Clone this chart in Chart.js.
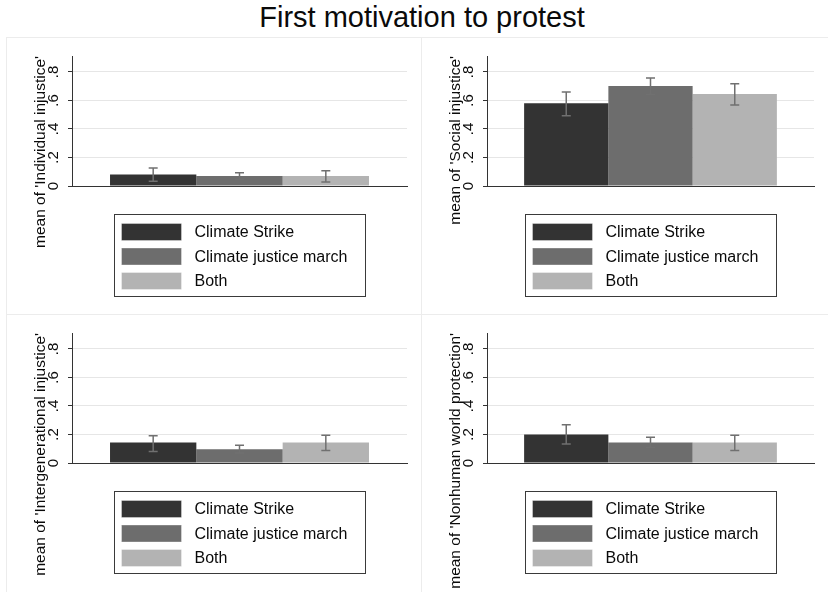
<!DOCTYPE html>
<html>
<head>
<meta charset="utf-8">
<script src="https://cdn.jsdelivr.net/npm/chart.js@4/dist/chart.umd.min.js"></script>
<style>
  body { margin: 0; background: #fff; width: 828px; height: 592px; overflow: hidden; position: relative; font-family: "Liberation Sans", Arial, sans-serif; }
  #title { position: absolute; top: 3px; left: 422px; transform: translateX(-50%); font-size: 29px; line-height: 29px; color: #0a0a0a; white-space: nowrap; }
  .panel { position: absolute; border-left: 1px solid #ececec; border-top: 1px solid #ececec; box-sizing: border-box; overflow: hidden; }
  .panel canvas { position: absolute; left: 0; top: 0; }
</style>
</head>
<body>
<div id="title">First motivation to protest</div>
<div class="panel" style="left:6px;top:37px;width:415px;height:277px"><canvas id="c0" width="415" height="277"></canvas></div>
<div class="panel" style="left:421px;top:37px;width:407px;height:277px"><canvas id="c1" width="407" height="277"></canvas></div>
<div class="panel" style="left:6px;top:314px;width:415px;height:278px"><canvas id="c2" width="415" height="278"></canvas></div>
<div class="panel" style="left:421px;top:314px;width:407px;height:278px"><canvas id="c3" width="407" height="278"></canvas></div>
<script>
// data
const seriesLabels = ['Climate Strike', 'Climate justice march', 'Both'];

const individualMean = [0.080, 0.070, 0.070];
const individualLow  = [0.033, 0.048, 0.028];
const individualHigh = [0.126, 0.093, 0.107];

const socialMean = [0.580, 0.702, 0.645];
const socialLow  = [0.493, 0.642, 0.568];
const socialHigh = [0.660, 0.758, 0.718];

const intergenMean = [0.143, 0.096, 0.143];
const intergenLow  = [0.080, 0.070, 0.087];
const intergenHigh = [0.192, 0.124, 0.194];

const nonhumanMean = [0.200, 0.143, 0.143];
const nonhumanLow  = [0.134, 0.108, 0.087];
const nonhumanHigh = [0.268, 0.180, 0.194];

const yTickValues = [0, 0.2, 0.4, 0.6, 0.8];
const yTickLabels = ['0', '.2', '.4', '.6', '.8'];

const barColors = ['#333333', '#6d6d6d', '#b3b3b3'];

const panels = [
  { id: 'c0', title: "mean of 'Individual injustice'", mean: individualMean, low: individualLow, high: individualHigh, bottom: 129 },
  { id: 'c1', title: "mean of 'Social injustice'", mean: socialMean, low: socialLow, high: socialHigh, bottom: 129 },
  { id: 'c2', title: "mean of 'Intergenerational injustice'", mean: intergenMean, low: intergenLow, high: intergenHigh, bottom: 130 },
  { id: 'c3', title: "mean of 'Nonhuman world protection'", mean: nonhumanMean, low: nonhumanLow, high: nonhumanHigh, bottom: 130 }
];

Chart.defaults.font.family = '"Liberation Sans", Arial, sans-serif';
Chart.defaults.color = '#0a0a0a';

// error bars (ci) on top of each bar
const errorBars = {
  id: 'errorBars',
  afterDatasetsDraw(chart, args, opts) {
    const ctx = chart.ctx;
    const y = chart.scales.y;
    ctx.save();
    ctx.strokeStyle = '#707070';
    ctx.lineWidth = 1.5;
    chart.data.datasets.forEach((ds, i) => {
      const bar = chart.getDatasetMeta(i).data[0];
      const y0 = y.getPixelForValue(opts.low[i]);
      const y1 = y.getPixelForValue(opts.high[i]);
      ctx.beginPath();
      ctx.moveTo(bar.x, y0); ctx.lineTo(bar.x, y1);
      ctx.moveTo(bar.x - 4.5, y0); ctx.lineTo(bar.x + 4.5, y0);
      ctx.moveTo(bar.x - 4.5, y1); ctx.lineTo(bar.x + 4.5, y1);
      ctx.stroke();
    });
    ctx.restore();
  }
};

// stata style legend box under the plot
const boxLegend = {
  id: 'boxLegend',
  afterDraw(chart) {
    const ctx = chart.ctx;
    const area = chart.chartArea;
    const w = 251, h = 82;
    const left = Math.round((area.left + area.right) / 2 - w / 2) + 0.5;
    const top = Math.round(area.bottom + 28) + 0.5;
    ctx.save();
    ctx.strokeStyle = '#3a3a3a';
    ctx.lineWidth = 1;
    ctx.strokeRect(left, top, w, h);
    ctx.font = '16px "Liberation Sans", Arial, sans-serif';
    ctx.textBaseline = 'middle';
    chart.data.datasets.forEach((ds, i) => {
      const cy = top + 17.5 + i * 24.5;
      ctx.fillStyle = ds.backgroundColor;
      ctx.fillRect(left + 7, cy - 8.5, 60, 17);
      ctx.strokeStyle = 'rgba(255,255,255,0.35)';
      ctx.strokeRect(left + 7, cy - 8.5, 60, 17);
      ctx.fillStyle = '#0a0a0a';
      ctx.fillText(ds.label, left + 80, cy + 1);
    });
    ctx.restore();
  }
};

panels.forEach(p => {
  new Chart(document.getElementById(p.id), {
    type: 'bar',
    data: {
      labels: [''],
      datasets: seriesLabels.map((lab, i) => ({
        label: lab,
        data: [p.mean[i]],
        backgroundColor: barColors[i],
        borderWidth: 0,
        barPercentage: 1,
        categoryPercentage: 0.773
      }))
    },
    options: {
      responsive: false,
      animation: false,
      layout: { padding: { left: 0, right: 15, top: 18, bottom: p.bottom } },
      plugins: {
        legend: { display: false },
        tooltip: { enabled: false },
        errorBars: { low: p.low, high: p.high }
      },
      scales: {
        x: {
          grid: { display: false },
          ticks: { display: false },
          border: { display: true, color: '#333', width: 1 },
          afterFit: s => { s.height = 0; }
        },
        y: {
          min: 0,
          max: 0.912,
          afterBuildTicks: s => { s.ticks = yTickValues.map(v => ({ value: v })); },
          afterFit: s => { s.width = 65; },
          ticks: {
            minRotation: 90,
            maxRotation: 90,
            crossAlign: 'center',
            padding: 8,
            font: { size: 15 },
            color: '#0a0a0a',
            callback: v => yTickLabels[yTickValues.findIndex(t => Math.abs(t - v) < 1e-6)]
          },
          grid: {
            color: c => (c.tick && c.tick.value === 0 ? 'rgba(0,0,0,0)' : '#e6e6e6'),
            tickColor: '#333',
            tickLength: 4,
            lineWidth: 1
          },
          border: { display: true, color: '#333', width: 1 },
          title: {
            display: true,
            text: p.title,
            align: 'end',
            font: { size: 15.5 },
            color: '#0a0a0a',
            padding: { top: 24.5, bottom: 0 }
          }
        }
      }
    },
    plugins: [errorBars, boxLegend]
  });
});
</script>
</body>
</html>
